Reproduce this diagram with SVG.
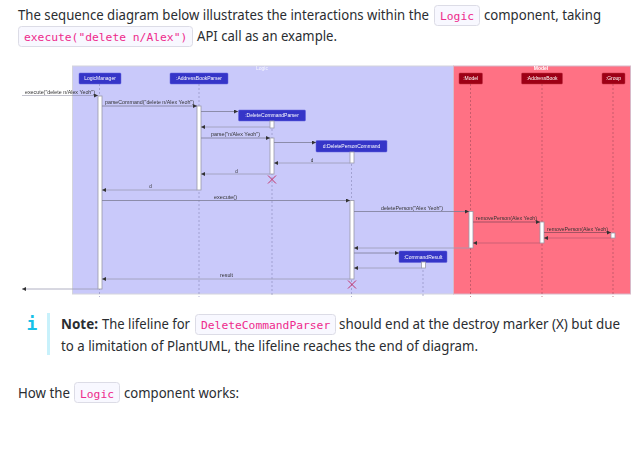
<svg xmlns="http://www.w3.org/2000/svg" width="639" height="453" viewBox="0 0 639 453">
<defs>
<style>
.t{font-family:"Noto Sans","Open Sans","Liberation Sans",sans-serif;font-size:13.6px;fill:#2a2d31}
.b{font-weight:700}
.c{font-family:"DejaVu Sans Mono","Liberation Mono",monospace;font-size:11.3px;fill:#ee2a8c}
.badge{fill:#f8f8ff;stroke:#dcdce6;stroke-width:1}
.a{fill:#3535c8;stroke:#6060dc;stroke-width:.5}
.m{fill:#9d0012;stroke:#c0304a;stroke-width:.5}
.al{font-family:"Liberation Sans",sans-serif;font-size:5px;fill:#fff;text-anchor:middle}
.ml{font-family:"Liberation Sans",sans-serif;font-size:4.6px;fill:#333;text-anchor:middle}
.ll{stroke:#9090c0;stroke-width:.7;stroke-dasharray:2 2;fill:none}
.lm{stroke:#b0505f;stroke-width:.7;stroke-dasharray:2 2;fill:none}
.ac{fill:#fff;stroke:#9a9aa8;stroke-width:.8}
.f{fill:none;stroke:#7c7c96;stroke-width:.8;marker-end:url(#h)}
.r{fill:none;stroke:#9c9cb4;stroke-width:.8;marker-end:url(#h)}
.fm{fill:none;stroke:#8e4a5c;stroke-width:.8;marker-end:url(#h)}
.rm{fill:none;stroke:#c05a70;stroke-width:.8;marker-end:url(#h)}
.x{fill:none;stroke:#c2326a;stroke-width:1}
</style>
<marker id="h" markerWidth="5" markerHeight="4" refX="4" refY="2" orient="auto" markerUnits="userSpaceOnUse"><path d="M0 0L4 2L0 4Z" fill="#333"/></marker>
<filter id="soft" x="0" y="0" width="100%" height="100%"><feGaussianBlur stdDeviation="0.3"/></filter>
</defs>
<rect width="639" height="453" fill="#fff"/>

<g id="intro">
<text class="t" x="18" y="20" textLength="411" lengthAdjust="spacingAndGlyphs">The sequence diagram below illustrates the interactions within the</text>
<rect class="badge" x="434.500" y="5.500" width="45" height="20" rx="3"/>
<text class="c" x="440" y="19.500">Logic</text>
<text class="t" x="484" y="20" textLength="117" lengthAdjust="spacingAndGlyphs">component, taking</text>
<rect class="badge" x="18.500" y="26.500" width="174" height="20" rx="3"/>
<text class="c" x="24" y="40.500">execute("delete n/Alex")</text>
<text class="t" x="197" y="41" textLength="140" lengthAdjust="spacingAndGlyphs">API call as an example.</text>
</g>

<g id="diagram" filter="url(#soft)">
<g id="logic-box">
<rect x="72.500" y="66" width="381" height="228" fill="#c9c9fa" stroke="#d4d4dc" stroke-width="1"/>
<text class="al" x="262" y="70" opacity=".85">Logic</text>
</g>
<g id="model-box">
<rect x="453.500" y="66" width="177" height="228" fill="#ff7184" stroke="#d8b8c8" stroke-width="1"/>
<text class="al" x="541" y="70" font-weight="700">Model</text>
</g>

<g id="lifelines">
<path class="ll" d="M99.500 84V297M199 84V297M272 121V297M351.500 152V297M423 262V297"/>
<path class="lm" d="M470.500 84V297M542 84V297M613 84V297"/>
</g>

<g id="node-logicmanager"><rect class="a" x="79" y="73" width="42" height="11" rx="1"/><text class="al" x="100" y="80.300">LogicManager</text></g>
<g id="node-addressbookparser"><rect class="a" x="170" y="73" width="58" height="11" rx="1"/><text class="al" x="199" y="80.300">:AddressBookParser</text></g>
<g id="node-deletecommandparser"><rect class="a" x="238.500" y="110" width="67" height="11" rx="1"/><text class="al" x="272" y="117.300">:DeleteCommandParser</text></g>
<g id="node-deletepersoncommand"><rect class="a" x="316" y="140.500" width="71" height="11.500" rx="1"/><text class="al" x="351.500" y="148">d:DeletePersonCommand</text></g>
<g id="node-commandresult"><rect class="a" x="399" y="251" width="48" height="11.500" rx="1"/><text class="al" x="423" y="258.500">:CommandResult</text></g>
<g id="node-model"><rect class="m" x="459" y="73" width="23.500" height="11" rx="1"/><text class="al" x="470.700" y="80.300">:Model</text></g>
<g id="node-addressbook"><rect class="m" x="521.500" y="73" width="41" height="11" rx="1"/><text class="al" x="542" y="80.300">:AddressBook</text></g>
<g id="node-group"><rect class="m" x="602" y="73" width="23" height="11" rx="1"/><text class="al" x="613.500" y="80.300">:Group</text></g>

<g id="activations">
<rect class="ac" x="98" y="96" width="4" height="193"/>
<rect class="ac" x="197" y="106" width="4" height="84"/>
<rect class="ac" x="270" y="121" width="4" height="7"/>
<rect class="ac" x="270" y="138" width="4" height="36"/>
<rect class="ac" x="350" y="152" width="4" height="11"/>
<rect class="ac" x="350" y="200.500" width="4" height="78.500"/>
<rect class="ac" x="421.500" y="262" width="4" height="6"/>
<rect class="ac" x="469" y="211.500" width="4" height="36.500"/>
<rect class="ac" x="540" y="222" width="4" height="21"/>
<rect class="ac" x="611" y="233" width="4" height="5"/>
</g>

<g id="connectors">
<path class="f" stroke-opacity=".6" d="M22 95.500H98"/>
<path class="f" d="M102 106H197"/>
<path class="f" d="M201 111.500H238"/>
<path class="r" d="M270 127H201"/>
<path class="f" d="M201 138H270"/>
<path class="f" d="M274 142.500H316"/>
<path class="r" d="M350 163H274"/>
<path class="r" d="M270 174H201"/>
<path class="r" d="M197 190H102"/>
<path class="f" d="M102 200.500H350"/>
<path class="f" d="M354 211.500H469"/>
<path class="fm" d="M473 222H540"/>
<path class="fm" d="M544 232.500H611"/>
<path class="rm" d="M611 238H544"/>
<path class="rm" d="M540 243H473"/>
<path class="r" d="M469 248H354"/>
<path class="f" d="M354 253H399"/>
<path class="r" d="M421.500 268H354"/>
<path class="r" d="M350 279H102"/>
<path class="r" d="M98 289H22"/>
</g>

<g id="message-labels">
<text class="ml" x="60" y="93.500" textLength="70" lengthAdjust="spacingAndGlyphs">execute("delete n/Alex Yeoh")</text>
<text class="ml" x="149.500" y="104" textLength="89" lengthAdjust="spacingAndGlyphs">parseCommand("delete n/Alex Yeoh")</text>
<text class="ml" x="235.500" y="136" textLength="49" lengthAdjust="spacingAndGlyphs">parse("n/Alex Yeoh")</text>
<text class="ml" x="312" y="161.500">d</text>
<text class="ml" x="236.500" y="172.500">d</text>
<text class="ml" x="150.500" y="188">d</text>
<text class="ml" x="225.500" y="198.500" textLength="23" lengthAdjust="spacingAndGlyphs">execute()</text>
<text class="ml" x="412" y="209.500" textLength="62" lengthAdjust="spacingAndGlyphs">deletePerson("Alex Yeoh")</text>
<text class="ml" x="506.500" y="220" textLength="61" lengthAdjust="spacingAndGlyphs">removePerson(Alex Yeoh)</text>
<text class="ml" x="577.500" y="230.500" textLength="61" lengthAdjust="spacingAndGlyphs">removePerson(Alex Yeoh)</text>
<text class="ml" x="226.500" y="277" textLength="13" lengthAdjust="spacingAndGlyphs">result</text>
</g>

<g id="destroy-markers">
<path class="x" d="M268 175.500L276 183.500M276 175.500L268 183.500"/>
<path class="x" d="M348 280.500L356 288.500M356 280.500L348 288.500"/>
</g>
</g>

<g id="note">
<text x="32" y="330" font-family="DejaVu Sans Mono,monospace" font-size="18" font-weight="700" fill="#17c1e8" text-anchor="middle">i</text>
<rect x="47" y="313" width="3" height="42" fill="#c8f1fb"/>
<text class="t b" x="61" y="329" textLength="37" lengthAdjust="spacingAndGlyphs">Note:</text>
<text class="t" x="102" y="329" textLength="88" lengthAdjust="spacingAndGlyphs">The lifeline for</text>
<rect class="badge" x="195.500" y="314.500" width="140" height="20" rx="3"/>
<text class="c" x="201" y="328.500">DeleteCommandParser</text>
<text class="t" x="339" y="329" textLength="281" lengthAdjust="spacingAndGlyphs">should end at the destroy marker (X) but due</text>
<text class="t" x="61" y="351" textLength="417" lengthAdjust="spacingAndGlyphs">to a limitation of PlantUML, the lifeline reaches the end of diagram.</text>
</g>

<g id="outro">
<text class="t" x="18" y="398" textLength="52" lengthAdjust="spacingAndGlyphs">How the</text>
<rect class="badge" x="74.500" y="382.500" width="45" height="20" rx="3"/>
<text class="c" x="80" y="397.500">Logic</text>
<text class="t" x="124" y="398" textLength="115" lengthAdjust="spacingAndGlyphs">component works:</text>
</g>
</svg>
